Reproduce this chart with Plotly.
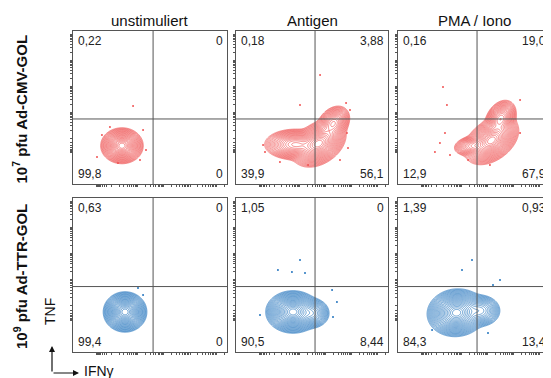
import numpy as np
import plotly.graph_objects as go

# ---------------- data ----------------
col_titles = ["unstimuliert", "Antigen", "PMA / Iono"]
row_titles = ["<b>10<sup>7</sup> pfu Ad-CMV-GOL</b>", "<b>10<sup>9</sup> pfu Ad-TTR-GOL</b>"]
x_label = "IFNγ"
y_label = "TNF"

# quadrant frequencies per panel: [upper-left, upper-right, lower-left, lower-right]
quad_r1 = [["0,22", "0", "99,8", "0"],
           ["0,18", "3,88", "39,9", "56,1"],
           ["0,16", "19,0", "12,9", "67,9"]]
quad_r2 = [["0,63", "0", "99,4", "0"],
           ["1,05", "0", "90,5", "8,44"],
           ["1,39", "0,93", "84,3", "13,4"]]

# quadrant gate (channel units, axis 0..1000)
gate_x = 520
gate_y = 425

# density populations per panel: (cx, cy, sx, sy, rho, weight)
pop_r1c1 = [(318, 250, 40, 34, 0.0, 1.0)]
pop_r1c2 = [(545, 265, 52, 45, 0.35, 1.0),
            (390, 258, 62, 31, 0.0, 0.5),
            (640, 395, 34, 36, 0.3, 0.4)]
pop_r1c3 = [(615, 285, 52, 46, 0.4, 1.0),
            (675, 425, 32, 38, 0.3, 0.45),
            (490, 250, 40, 22, 0.2, 0.2)]
pop_r2c1 = [(338, 260, 41, 38, 0.0, 1.0)]
pop_r2c2 = [(375, 260, 52, 40, 0.0, 1.0),
            (500, 252, 38, 32, 0.0, 0.2)]
pop_r2c3 = [(385, 255, 56, 45, 0.05, 1.0),
            (540, 268, 44, 34, 0.0, 0.2)]

# sparse events outside contours (channel units)
dots_r1c1_x = [240, 455, 156, 435, 188, 474, 292, 390]
dots_r1c1_y = [373, 353, 176, 157, 320, 222, 137, 510]
dots_r1c2_x = [421, 724, 750, 178, 191, 730, 737, 289, 474, 684, 553]
dots_r1c2_y = [516, 529, 484, 255, 209, 333, 235, 144, 124, 157, 712]
dots_r1c3_x = [322, 276, 243, 309, 803, 803, 605, 461, 342, 296]
dots_r1c3_y = [516, 268, 209, 333, 549, 333, 124, 157, 190, 634]
dots_r2c1_x = [422, 455]
dots_r2c1_y = [416, 370]
dots_r2c2_x = [421, 276, 368, 454, 632, 158, 638, 664]
dots_r2c2_y = [597, 532, 519, 513, 403, 240, 227, 325]
dots_r2c3_x = [487, 421, 671, 625, 592, 224]
dots_r2c3_y = [597, 532, 468, 435, 123, 143]

red = "rgb(240,82,82)"
blue = "rgb(34,116,190)"

# ---------------- layout helpers ----------------
PAGE_OFF = 8            # browser body margin
W, H = 551 - PAGE_OFF, 378 - PAGE_OFF
col_px = [(73, 227), (236, 388), (398, 550)]
row_px = [(31, 184), (198, 352)]

def px_x(p):
    return (p - PAGE_OFF) / W

def px_y(p):
    return 1 - (p - PAGE_OFF) / H

grid = np.linspace(0, 1000, 251)
GX, GY = np.meshgrid(grid, grid)
POW = 0.7

def density(pops):
    d = np.zeros_like(GX)
    for cx, cy, sx, sy, rho, w in pops:
        dx = (GX - cx) / sx
        dy = (GY - cy) / sy
        q = (dx * dx - 2 * rho * dx * dy + dy * dy) / (1 - rho * rho)
        d += w * np.exp(-0.5 * q)
    rel = d / d.max() + 1e-14
    return -np.power(-np.log(rel), POW)

outer = -np.power(np.log(10 ** 2.6), POW)
inner = -0.22
nlev = 21

def log_ticks(zero, dec):
    t = []
    for k in range(2, 10):
        t.append(zero - dec * np.log10(k) * 0.6)
    for d0 in range(0, 5):
        base = zero + dec * d0
        t.append(base)
        for k in range(2, 10):
            t.append(base + dec * np.log10(k))
    return [v for v in t if 3 <= v <= 997]

xt = log_ticks(250, 170)
yt = log_ticks(300, 170)

fig = go.Figure()
panels = [
    (0, 0, pop_r1c1, dots_r1c1_x, dots_r1c1_y, red, quad_r1[0]),
    (0, 1, pop_r1c2, dots_r1c2_x, dots_r1c2_y, red, quad_r1[1]),
    (0, 2, pop_r1c3, dots_r1c3_x, dots_r1c3_y, red, quad_r1[2]),
    (1, 0, pop_r2c1, dots_r2c1_x, dots_r2c1_y, blue, quad_r2[0]),
    (1, 1, pop_r2c2, dots_r2c2_x, dots_r2c2_y, blue, quad_r2[1]),
    (1, 2, pop_r2c3, dots_r2c3_x, dots_r2c3_y, blue, quad_r2[2]),
]

annotations = []
shapes = []
for i, (r, c, pops, dxs, dys, colr, quad) in enumerate(panels):
    n = i + 1
    xa = "x" if n == 1 else f"x{n}"
    ya = "y" if n == 1 else f"y{n}"
    z = density(pops)
    fig.add_trace(go.Contour(
        x=grid, y=grid, z=z, xaxis=xa, yaxis=ya,
        contours=dict(start=outer, end=inner, size=(inner - outer) / nlev, coloring="none"),
        line=dict(color=colr, width=0.65, smoothing=1),
        showscale=False, hoverinfo="skip",
    ))
    fig.add_trace(go.Scatter(
        x=dxs, y=dys, xaxis=xa, yaxis=ya, mode="markers",
        marker=dict(size=2, color=colr), hoverinfo="skip", showlegend=False,
    ))
    x0, x1 = col_px[c]
    y0, y1 = row_px[r]
    axcommon = dict(range=[0, 1000], showgrid=False, zeroline=False,
                    showline=True, mirror=True, linecolor="#555", linewidth=1,
                    ticks="outside", ticklen=2, tickwidth=1, tickcolor="#555",
                    showticklabels=False, fixedrange=True)
    fig.layout[f"xaxis{'' if n == 1 else n}"] = dict(
        domain=[px_x(x0), px_x(x1)], anchor=ya, tickvals=xt, **axcommon)
    fig.layout[f"yaxis{'' if n == 1 else n}"] = dict(
        domain=[px_y(y1), px_y(y0)], anchor=xa, tickvals=yt, **axcommon)
    shapes.append(dict(type="line", xref=xa, yref=ya, x0=gate_x, x1=gate_x,
                       y0=0, y1=1000, line=dict(color="#555", width=1)))
    shapes.append(dict(type="line", xref=xa, yref=ya, x0=0, x1=1000,
                       y0=gate_y, y1=gate_y, line=dict(color="#555", width=1)))
    qf = dict(size=12, color="#222")
    annotations += [
        dict(xref=f"{xa} domain", yref=f"{ya} domain", x=0.02, y=0.995,
             xanchor="left", yanchor="top", text=quad[0], showarrow=False, font=qf),
        dict(xref=f"{xa} domain", yref=f"{ya} domain", x=0.985, y=0.995,
             xanchor="right", yanchor="top", text=quad[1], showarrow=False, font=qf),
        dict(xref=f"{xa} domain", yref=f"{ya} domain", x=0.02, y=0.005,
             xanchor="left", yanchor="bottom", text=quad[2], showarrow=False, font=qf),
        dict(xref=f"{xa} domain", yref=f"{ya} domain", x=0.985, y=0.005,
             xanchor="right", yanchor="bottom", text=quad[3], showarrow=False, font=qf),
    ]

for c, t in enumerate(col_titles):
    x0, x1 = col_px[c]
    annotations.append(dict(xref="paper", yref="paper", x=px_x((x0 + x1) / 2),
                            y=px_y(20), text=t, showarrow=False,
                            font=dict(size=15, color="#111"),
                            xanchor="center", yanchor="middle"))
for r, t in enumerate(row_titles):
    y0, y1 = row_px[r]
    annotations.append(dict(xref="paper", yref="paper", x=px_x(20),
                            y=px_y((y0 + y1) / 2 + 2), text=t, textangle=-90,
                            showarrow=False, font=dict(size=15, color="#111"),
                            xanchor="center", yanchor="middle"))

# axis arrows
annotations.append(dict(xref="paper", yref="paper", x=px_x(52), y=px_y(346),
                        ax=0, ay=27, text="", showarrow=True, arrowhead=2,
                        arrowsize=1, arrowwidth=1.2, arrowcolor="#111", standoff=0,
                        startstandoff=0))
annotations.append(dict(xref="paper", yref="paper", x=px_x(79), y=px_y(373),
                        ax=-27, ay=0, text="", showarrow=True, arrowhead=2,
                        arrowsize=1, arrowwidth=1.2, arrowcolor="#111", standoff=0,
                        startstandoff=0))
annotations.append(dict(xref="paper", yref="paper", x=px_x(50), y=px_y(312),
                        text=y_label, textangle=-90, showarrow=False,
                        font=dict(size=14, color="#111"), xanchor="center", yanchor="middle"))
annotations.append(dict(xref="paper", yref="paper", x=px_x(82), y=px_y(371),
                        text=x_label, showarrow=False,
                        font=dict(size=14, color="#111"), xanchor="left", yanchor="middle"))

fig.update_layout(
    width=W, height=H, margin=dict(l=0, r=0, t=0, b=0),
    paper_bgcolor="white", plot_bgcolor="white", showlegend=False,
    font=dict(family="Liberation Sans, Arial, sans-serif"),
    annotations=annotations, shapes=shapes,
)
fig.write_html("out.html")
